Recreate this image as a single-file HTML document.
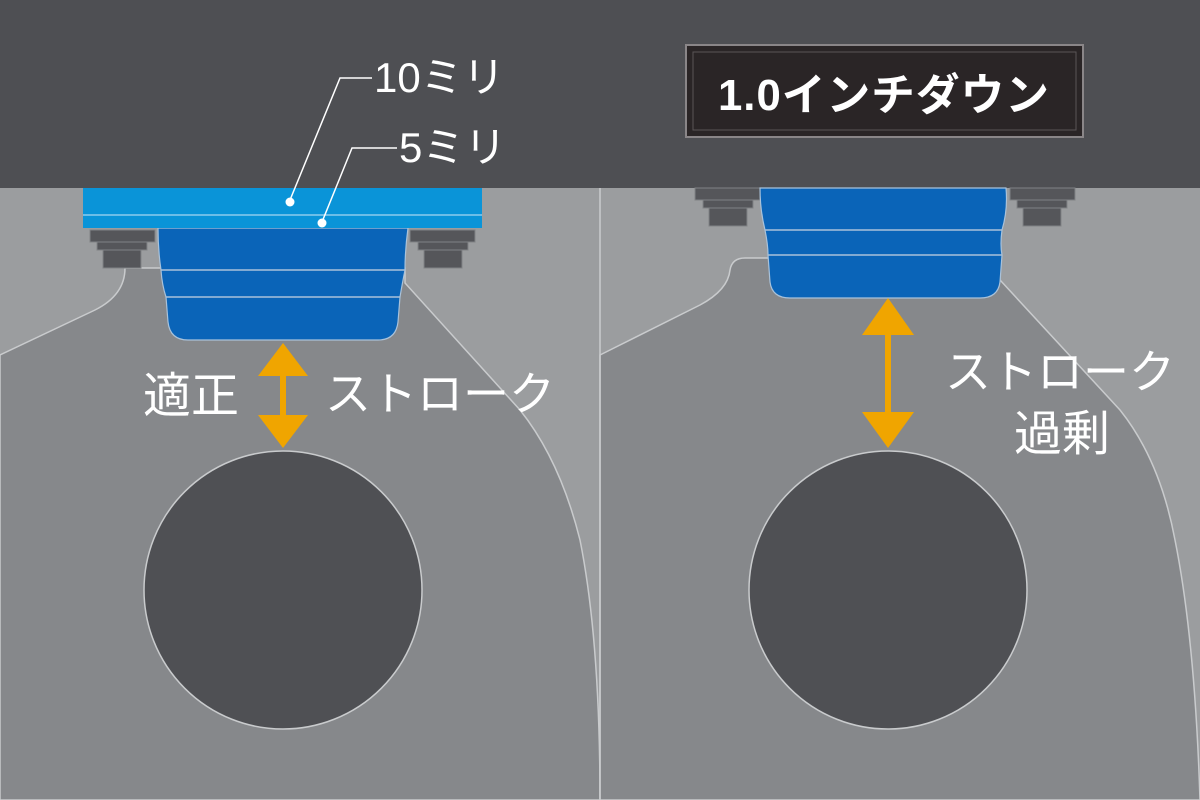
<!DOCTYPE html>
<html><head><meta charset="utf-8"><style>
html,body{margin:0;padding:0;background:#4e4f53}
svg{display:block}
text{font-family:"Liberation Sans","Noto Sans CJK JP",sans-serif;}
</style></head><body>
<svg width="1200" height="800" viewBox="0 0 1200 800" xmlns="http://www.w3.org/2000/svg">
<rect x="0" y="0" width="1200" height="800" fill="#9b9d9f"/>
<rect x="0" y="0" width="1200" height="188" fill="#4e4f53"/>
<path d="M0,355 L95,310 Q125,295 125,268 L405,268 L405,283 L520,410 Q560,460 580,540 Q600,640 600,800 L0,800 Z" fill="#86888b" stroke="#c9cbcd" stroke-width="1.5"/>
<path d="M600,355 L700,305 Q728,290 730,270 Q732,258 745,258 L1000,258 L1000,280 L1120,410 Q1160,460 1175,540 Q1195,640 1200,800 L600,800 Z" fill="#86888b" stroke="#c9cbcd" stroke-width="1.5"/>
<line x1="600" y1="188" x2="600" y2="800" stroke="#c9cbcd" stroke-width="1.5"/>
<circle cx="283" cy="590" r="139" fill="#4f5054" stroke="#c9cbcd" stroke-width="1.5"/>
<circle cx="888" cy="590" r="139" fill="#4f5054" stroke="#c9cbcd" stroke-width="1.5"/>
<g fill="#55565a" stroke="#808285" stroke-width="1">
<rect x="90" y="230" width="65" height="12"/><rect x="97" y="242" width="50" height="8"/><rect x="103" y="250" width="38" height="18"/>
<rect x="410" y="230" width="65" height="12"/><rect x="418" y="242" width="50" height="8"/><rect x="424" y="250" width="38" height="18"/>
<rect x="695" y="188" width="65" height="12"/><rect x="703" y="200" width="50" height="8"/><rect x="709" y="208" width="38" height="18"/>
<rect x="1010" y="188" width="65" height="12"/><rect x="1017" y="200" width="50" height="8"/><rect x="1023" y="208" width="38" height="18"/>
</g>
<path d="M158,228 L408,228 Q405,250 405,270 Q402,285 400,297 L398,322 Q396,340 378,340 L188,340 Q170,340 168,322 L166,297 Q162,285 161,270 Q158,250 158,228 Z" fill="#0a64b8" stroke="#a9c2da" stroke-width="1.2"/>
<line x1="161" y1="270" x2="405" y2="270" stroke="#a9c2da" stroke-width="1.5"/>
<line x1="166" y1="297" x2="400" y2="297" stroke="#a9c2da" stroke-width="1.5"/>
<rect x="83" y="188" width="399" height="40" fill="#0a94d8"/>
<line x1="83" y1="215" x2="482" y2="215" stroke="#8ccbed" stroke-width="1.5"/>
<path d="M760,188 L1006,188 Q1008,210 1002,230 Q1000,245 1002,255 L1000,282 Q998,298 980,298 L790,298 Q772,298 770,282 L768,255 Q768,245 765,230 Q760,210 760,188 Z" fill="#0a64b8" stroke="#a9c2da" stroke-width="1.2"/>
<line x1="765" y1="230" x2="1002" y2="230" stroke="#a9c2da" stroke-width="1.5"/>
<line x1="768" y1="255" x2="1002" y2="255" stroke="#a9c2da" stroke-width="1.5"/>
<g stroke="#ffffff" stroke-width="1.5" fill="none">
<path d="M372,78 L340,78 L290,200"/>
<path d="M397,148 L352,148 L322,222"/>
</g>
<circle cx="290" cy="202" r="4.5" fill="#fff"/>
<circle cx="322" cy="223" r="4.5" fill="#fff"/>
<g fill="#f0a500">
<rect x="280" y="370" width="6" height="55"/>
<polygon points="283,343 258,376 308,376"/>
<polygon points="283,448 258,415 308,415"/>
<rect x="885" y="325" width="6" height="100"/>
<polygon points="888,298 862,335 914,335"/>
<polygon points="888,448 862,412 914,412"/>
</g>
<rect x="686" y="45" width="397" height="92" fill="#2a2526" stroke="#8a8688" stroke-width="2"/>
<rect x="693" y="52" width="383" height="78" fill="none" stroke="#5a5557" stroke-width="1"/>
<text x="718" y="110" font-size="44" font-weight="bold" letter-spacing="1" fill="#fff" textLength="332" lengthAdjust="spacingAndGlyphs">1.0インチダウン</text>
<g fill="#ffffff">
<text x="374" y="92" font-size="42">10ミリ</text>
<text x="399" y="162" font-size="42">5ミリ</text>
<text x="143" y="412" font-size="48">適正</text>
<text x="325" y="410" font-size="46">ストローク</text>
<text x="945" y="388" font-size="46">ストローク</text>
<text x="1014" y="450" font-size="48">過剰</text>
</g>
</svg>
</body></html>
